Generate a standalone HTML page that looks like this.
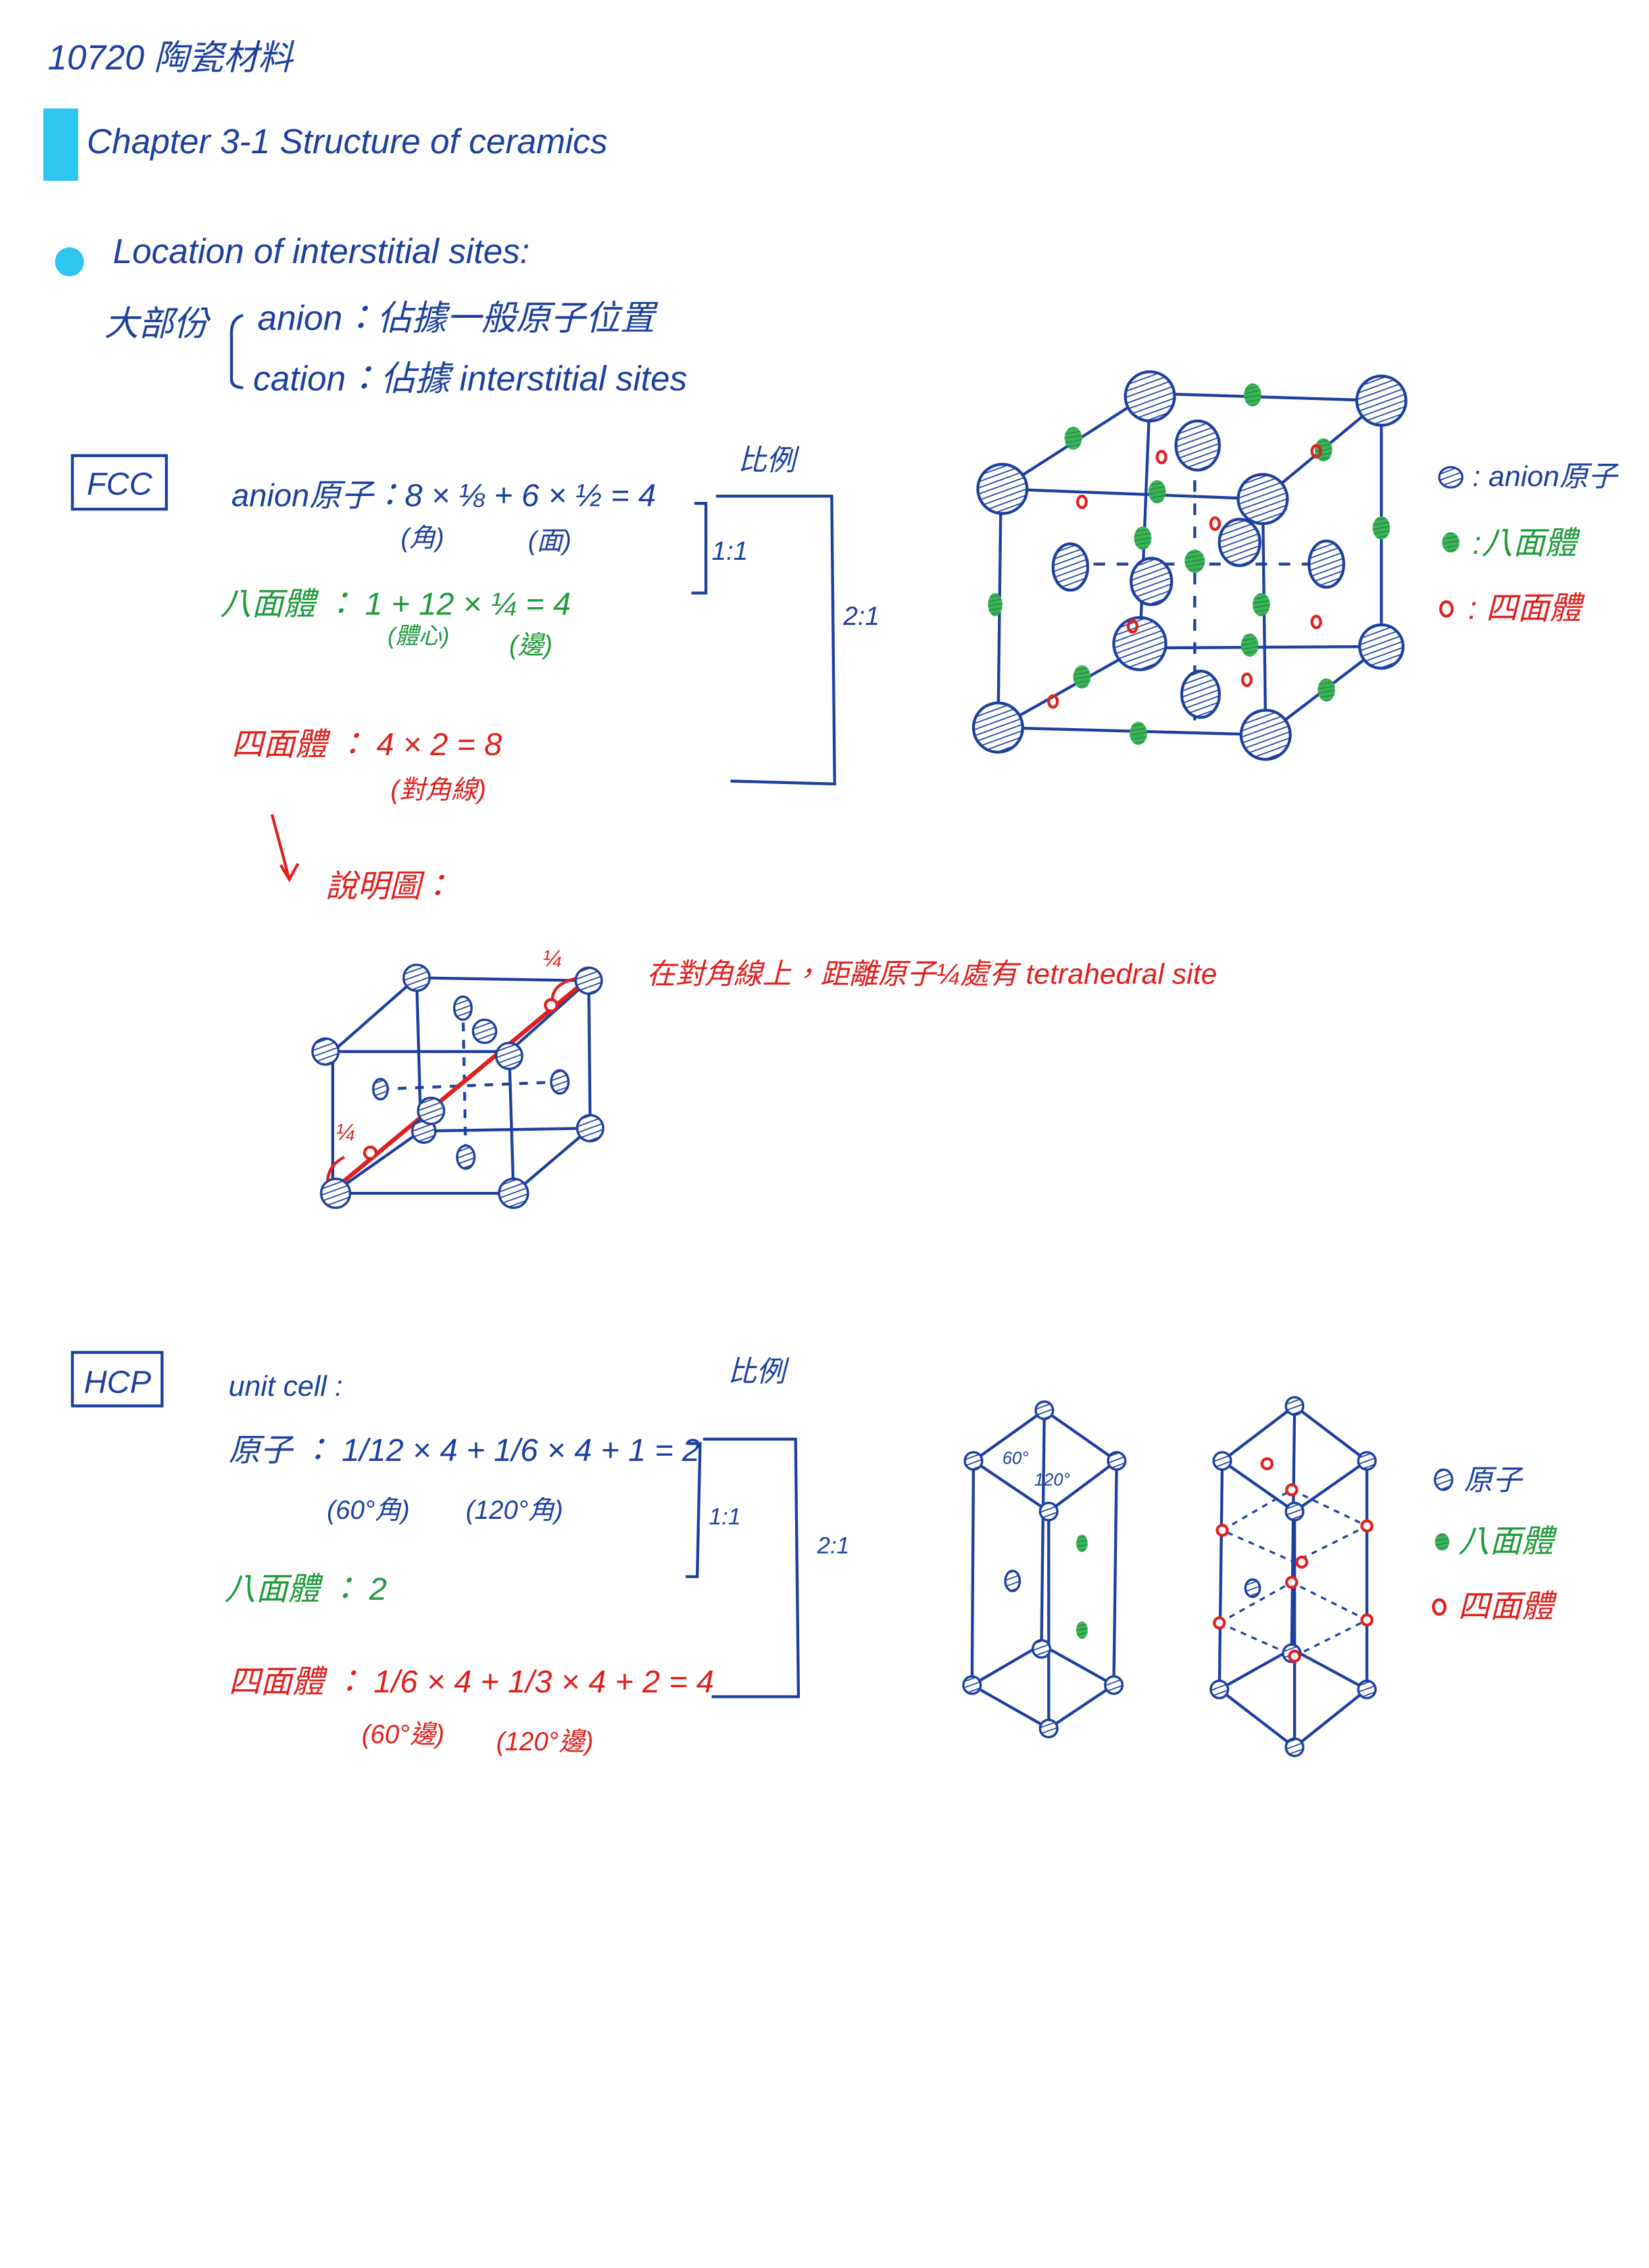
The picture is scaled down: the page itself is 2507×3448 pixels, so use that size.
<!DOCTYPE html>
<html><head><meta charset="utf-8"><style>
html,body{margin:0;padding:0;background:#fff;}
svg{display:block;}
text{font-family:"Liberation Sans","Noto Sans CJK TC",sans-serif;font-style:italic;}
.b{fill:#1d3f9e}.g{fill:#1f9a3c}.r{fill:#e0201e}
</style></head><body>
<svg width="2507" height="3448" viewBox="0 0 1140 1568" xmlns="http://www.w3.org/2000/svg">
<defs>
<pattern id="h" width="4" height="4" patternUnits="userSpaceOnUse" patternTransform="rotate(70)"><rect width="4" height="4" fill="#fff"/><line x1="0" y1="0" x2="0" y2="4" stroke="#1d3f9e" stroke-width="1.6"/></pattern>
<pattern id="hg" width="3" height="3" patternUnits="userSpaceOnUse" patternTransform="rotate(80)"><rect width="3" height="3" fill="#3bb35a"/><line x1="0" y1="0" x2="0" y2="3" stroke="#1a7a30" stroke-width="1"/></pattern>
</defs>
<g font-size="24">
<text x="33" y="48" class="b">10720 陶瓷材料</text>
<rect x="30" y="75" width="24" height="50" fill="#2ec6ee"/>
<text x="60" y="106" class="b">Chapter 3-1  Structure of ceramics</text>
<circle cx="48" cy="181" r="10" fill="#2ec6ee"/>
<text x="78" y="182" class="b">Location of interstitial sites:</text>
<text x="72" y="232" class="b">大部份</text>
<text x="178" y="228" class="b">anion：佔據一般原子位置</text>
<text x="175" y="270" class="b">cation：佔據 interstitial sites</text>
<path d="M168 218 Q160 220 160 230 L160 262 Q160 268 168 268" stroke="#1d3f9e" stroke-width="2" fill="none"/>
</g>
<g stroke="#1d3f9e" stroke-width="2" fill="none">
<rect x="50" y="315" width="65" height="37"/>
<path d="M480 348 L488 348 L488 410 L478 410"/>
<path d="M495 343 L575 343 L577 542 L505 540"/>
<rect x="50" y="935" width="62" height="37"/>
<path d="M476 998 L484 998 L482 1090 L474 1090"/>
<path d="M486 995 L550 995 L552 1173 L492 1173"/>
</g>
<g font-size="22">
<text x="60" y="342" class="b" font-style="normal">FCC</text>
<text x="160" y="350" class="b">anion原子：8 × ⅛ + 6 × ½ = 4</text>
<text x="277" y="378" class="b" font-size="18">(角)</text><text x="365" y="380" class="b" font-size="18">(面)</text>
<text x="510" y="325" class="b" font-size="20">比例</text>
<text x="492" y="387" class="b" font-size="18">1:1</text>
<text x="583" y="432" class="b" font-size="18">2:1</text>
<text x="152" y="425" class="g">八面體 ：  1   +  12 × ¼ = 4</text>
<text x="268" y="445" class="g" font-size="16">(體心)</text><text x="352" y="452" class="g" font-size="18">(邊)</text>
<text x="160" y="522" class="r">四面體 ：  4  × 2 = 8</text>
<text x="270" y="552" class="r" font-size="18">(對角線)</text>
<text x="225" y="620" class="r">說明圖：</text>
<text x="447" y="680" class="r" font-size="20">在對角線上，距離原子¼處有 tetrahedral site</text>
<text x="58" y="963" class="b" font-style="normal">HCP</text>
<text x="158" y="965" class="b" font-size="20">unit cell :</text>
<text x="503" y="955" class="b" font-size="20">比例</text>
<text x="158" y="1010" class="b">原子 ：  1/12 × 4  +  1/6 × 4 + 1 = 2</text>
<text x="226" y="1050" class="b" font-size="18">(60°角)</text><text x="322" y="1050" class="b" font-size="18">(120°角)</text>
<text x="490" y="1054" class="b" font-size="16">1:1</text>
<text x="565" y="1074" class="b" font-size="16">2:1</text>
<text x="155" y="1106" class="g">八面體 ：  2</text>
<text x="158" y="1170" class="r">四面體 ：  1/6 × 4 + 1/3 × 4 + 2 = 4</text>
<text x="250" y="1205" class="r" font-size="18">(60°邊)</text><text x="343" y="1210" class="r" font-size="18">(120°邊)</text>
<text x="1018" y="336" class="b" font-size="20">: anion原子</text>
<text x="1018" y="383" class="g" font-size="22">:八面體</text>
<text x="1015" y="428" class="r" font-size="22">: 四面體</text>
<text x="1012" y="1030" class="b" font-size="20">原子</text>
<text x="1008" y="1073" class="g" font-size="22">八面體</text>
<text x="1008" y="1118" class="r" font-size="22">四面體</text>
<text x="375" y="668" class="r" font-size="16">¼</text>
<text x="232" y="788" class="r" font-size="16">¼</text>
</g>
<!-- legend dots -->
<ellipse cx="1003" cy="330" rx="8" ry="7" fill="url(#h)" stroke="#1d3f9e" stroke-width="1.5"/>
<ellipse cx="1003" cy="375" rx="6" ry="7" fill="url(#hg)"/>
<ellipse cx="1000" cy="421" rx="4" ry="5" fill="none" stroke="#e0201e" stroke-width="2"/>
<ellipse cx="998" cy="1023" rx="6" ry="7" fill="url(#h)" stroke="#1d3f9e" stroke-width="1.5"/>
<ellipse cx="997" cy="1066" rx="5" ry="6" fill="url(#hg)"/>
<ellipse cx="995" cy="1111" rx="4" ry="5" fill="none" stroke="#e0201e" stroke-width="2"/>
<!-- arrow -->
<path d="M188 563 L200 608 M194 598 L200 608 L206 597" stroke="#e0201e" stroke-width="2" fill="none"/>
<!-- big FCC cube -->
<g stroke="#1d3f9e" stroke-width="2" fill="none">
<path d="M692 338 L873 345 L875 508 L690 503 Z"/>
<path d="M795 272 L955 277 L955 447 L788 448"/>
<path d="M795 272 L788 448 M692 338 L795 272 M873 345 L955 277 M875 508 L955 447 M690 503 L788 448"/>
<path d="M740 390 L918 390 M826 300 L826 498" stroke-dasharray="8 8"/>
</g>
<g fill="url(#h)" stroke="#1d3f9e" stroke-width="2">
<circle cx="795" cy="274" r="17"/><circle cx="955" cy="277" r="17"/>
<circle cx="693" cy="338" r="17"/><circle cx="873" cy="345" r="17"/>
<circle cx="690" cy="503" r="17"/><circle cx="875" cy="508" r="17"/>
<circle cx="788" cy="445" r="18"/><circle cx="955" cy="447" r="15"/>
<ellipse cx="828" cy="308" rx="15" ry="17"/><ellipse cx="740" cy="392" rx="12" ry="16"/>
<ellipse cx="917" cy="390" rx="12" ry="16"/><ellipse cx="796" cy="402" rx="14" ry="16"/>
<ellipse cx="857" cy="375" rx="14" ry="16"/><ellipse cx="830" cy="480" rx="13" ry="16"/>
</g>
<g fill="url(#hg)">
<ellipse cx="866" cy="273" rx="6" ry="8"/><ellipse cx="742" cy="303" rx="6" ry="8"/>
<ellipse cx="915" cy="311" rx="6" ry="8"/><ellipse cx="800" cy="340" rx="6" ry="8"/>
<ellipse cx="955" cy="365" rx="6" ry="8"/><ellipse cx="786" cy="410" rx="0" ry="0"/>
<ellipse cx="688" cy="418" rx="5" ry="8"/><ellipse cx="790" cy="372" rx="6" ry="8"/>
<ellipse cx="826" cy="388" rx="7" ry="8"/><ellipse cx="872" cy="418" rx="6" ry="8"/>
<ellipse cx="748" cy="468" rx="6" ry="8"/><ellipse cx="864" cy="446" rx="6" ry="8"/>
<ellipse cx="917" cy="477" rx="6" ry="8"/><ellipse cx="787" cy="507" rx="6" ry="8"/>
</g>
<g fill="none" stroke="#e0201e" stroke-width="2">
<ellipse cx="803" cy="316" rx="3" ry="4"/><ellipse cx="748" cy="347" rx="3" ry="4"/>
<ellipse cx="840" cy="362" rx="3" ry="4"/><ellipse cx="910" cy="312" rx="3" ry="4"/>
<ellipse cx="783" cy="433" rx="3" ry="4"/><ellipse cx="910" cy="430" rx="3" ry="4"/>
<ellipse cx="862" cy="470" rx="3" ry="4"/><ellipse cx="728" cy="485" rx="3" ry="4"/>
</g>
<!-- small cube -->
<g stroke="#1d3f9e" stroke-width="2" fill="none">
<path d="M230 727 L352 727 L355 825 L230 825 Z"/>
<path d="M288 676 L407 678 L408 780 L291 782"/>
<path d="M288 676 L291 782 M230 727 L288 676 M352 727 L407 678 M355 825 L408 780 M230 825 L291 782"/>
<path d="M263 753 L387 748 M320 695 L322 800" stroke-dasharray="6 6"/>
</g>
<path d="M230 823 L405 678" stroke="#e0201e" stroke-width="3"/>
<path d="M228 828 Q222 808 238 800 M400 676 Q380 680 382 694" stroke="#e0201e" stroke-width="2" fill="none"/>
<g fill="url(#h)" stroke="#1d3f9e" stroke-width="1.6">
<circle cx="288" cy="676" r="9"/><circle cx="407" cy="678" r="9"/>
<circle cx="225" cy="727" r="9"/><circle cx="352" cy="730" r="9"/>
<circle cx="232" cy="825" r="10"/><circle cx="355" cy="825" r="10"/>
<circle cx="293" cy="782" r="8"/><circle cx="408" cy="780" r="9"/>
<circle cx="298" cy="768" r="9"/><circle cx="335" cy="713" r="8"/>
<ellipse cx="320" cy="697" rx="6" ry="8"/><ellipse cx="263" cy="753" rx="5" ry="7"/>
<ellipse cx="387" cy="748" rx="6" ry="8"/><ellipse cx="322" cy="800" rx="6" ry="8"/>
</g>
<g fill="#fff" stroke="#e0201e" stroke-width="2"><circle cx="256" cy="797" r="4"/><circle cx="381" cy="695" r="4"/></g>
<!-- HCP prisms -->
<g stroke="#1d3f9e" stroke-width="2" fill="none">
<path d="M673 1010 L722 975 L772 1010 L725 1045 Z"/>
<path d="M672 1165 L720 1137 L770 1165 L725 1195 Z"/>
<path d="M673 1010 L672 1165 M772 1010 L770 1165 M725 1045 L725 1195 M722 975 L720 1137" />
<path d="M845 1010 L895 972 L945 1010 L895 1045 Z"/>
<path d="M843 1168 L893 1140 L945 1168 L895 1208 Z"/>
<path d="M845 1010 L843 1168 M945 1010 L945 1168 M895 1045 L895 1208 M895 972 L893 1140"/>
<g stroke-dasharray="4 4" stroke-width="1.5">
<path d="M845 1058 L893 1030 L945 1055 L895 1080 Z"/>
<path d="M843 1122 L893 1094 L945 1120 L895 1145 Z"/>
</g>
</g>
<g font-size="12" class="b"><text x="693" y="1012">60°</text><text x="715" y="1027">120°</text></g>
<g fill="url(#h)" stroke="#1d3f9e" stroke-width="1.6">
<circle cx="673" cy="1010" r="6"/><circle cx="722" cy="975" r="6"/><circle cx="772" cy="1010" r="6"/><circle cx="725" cy="1045" r="6"/>
<circle cx="672" cy="1165" r="6"/><circle cx="720" cy="1140" r="6"/><circle cx="770" cy="1165" r="6"/><circle cx="725" cy="1195" r="6"/>
<ellipse cx="700" cy="1093" rx="5" ry="7"/>
<circle cx="845" cy="1010" r="6"/><circle cx="895" cy="972" r="6"/><circle cx="945" cy="1010" r="6"/><circle cx="895" cy="1045" r="6"/>
<circle cx="843" cy="1168" r="6"/><circle cx="893" cy="1143" r="6"/><circle cx="945" cy="1168" r="6"/><circle cx="895" cy="1208" r="6"/>
<ellipse cx="866" cy="1098" rx="5" ry="6"/>
</g>
<g fill="url(#hg)"><ellipse cx="748" cy="1067" rx="4" ry="6"/><ellipse cx="748" cy="1127" rx="4" ry="6"/></g>
<g fill="#fff" stroke="#e0201e" stroke-width="2">
<circle cx="876" cy="1012" r="3.5"/><circle cx="893" cy="1030" r="3.5"/><circle cx="845" cy="1058" r="3.5"/><circle cx="945" cy="1055" r="3.5"/><circle cx="900" cy="1080" r="3.5"/>
<circle cx="843" cy="1122" r="3.5"/><circle cx="893" cy="1094" r="3.5"/><circle cx="945" cy="1120" r="3.5"/><circle cx="895" cy="1145" r="3.5"/>
</g>
</svg>
</body></html>
